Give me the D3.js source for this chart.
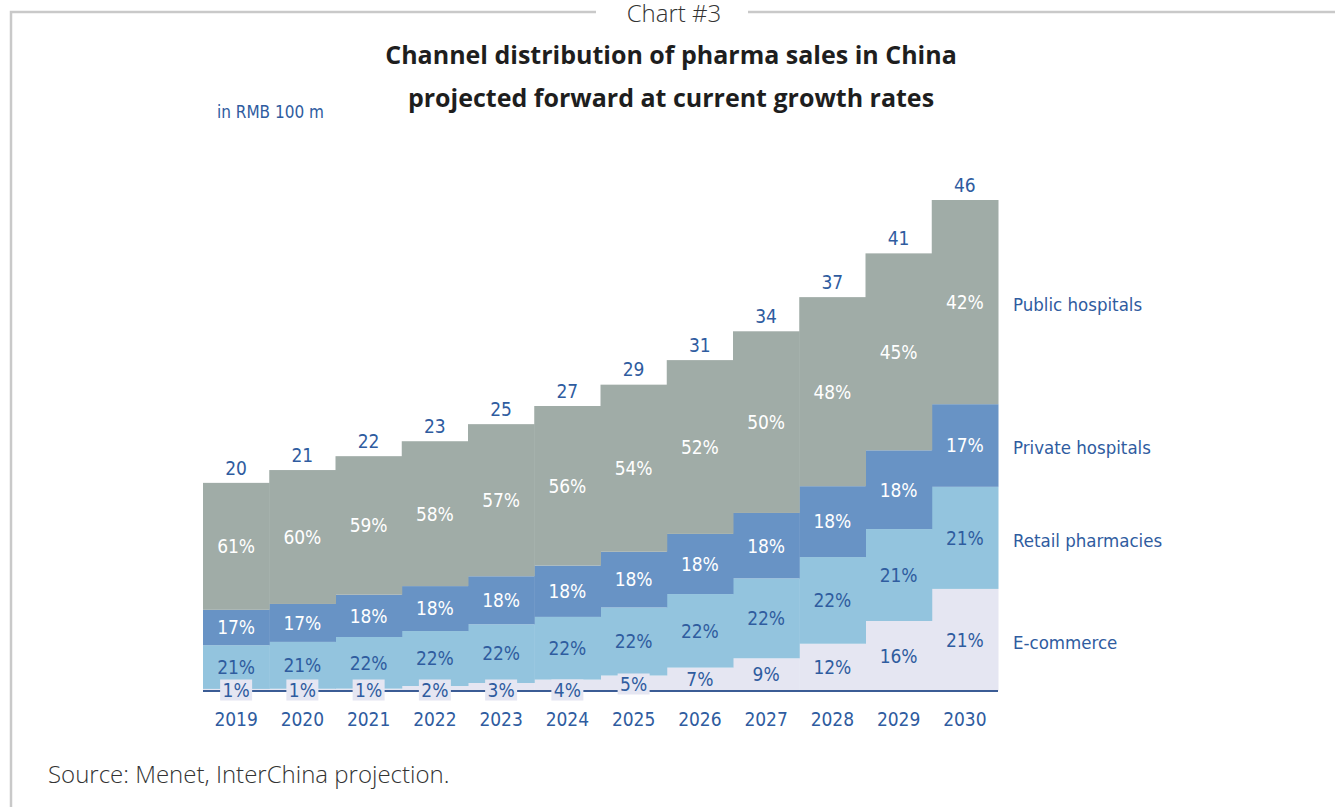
<!DOCTYPE html>
<html>
<head>
<meta charset="utf-8">
<script src="https://cdn.jsdelivr.net/npm/d3@7"></script>
<style>
  body { margin: 0; background: #fff; }
  svg { display: block; }
</style>
</head>
<body>
<svg class="chart"></svg>
<script>
var years = ['2019','2020','2021','2022','2023','2024','2025','2026','2027','2028','2029','2030'];
// totals in RMB 100 m (labels show them rounded)
var totals = [19.5, 20.7, 22.0, 23.4, 25.0, 26.7, 28.7, 31.0, 33.7, 36.9, 41.0, 46.0];
// channel shares in %
var publicShare  = [61, 60, 59, 58, 57, 56, 54, 52, 50, 48, 45, 42];
var privateShare = [17, 17, 18, 18, 18, 18, 18, 18, 18, 18, 18, 17];
var retailShare  = [21, 21, 22, 22, 22, 22, 22, 22, 22, 22, 21, 21];
var ecomShare    = [1, 1, 1, 2, 3, 4, 5, 7, 9, 12, 16, 21];
var channels = ['E-commerce', 'Retail pharmacies', 'Private hospitals', 'Public hospitals'];

var settings = {
  width: 1335,
  height: 807,
  font: '"DejaVu Sans Condensed", "Liberation Sans", sans-serif',
  blue: '#2f5c9f',
  colors: ['#e5e6f2', '#93c4de', '#6893c5', '#a0aca7']
};

var shares = [ecomShare, retailShare, privateShare, publicShare];

var svg = d3.select('.chart')
  .attr('width', settings.width)
  .attr('height', settings.height);

// frame
svg.append('path')
  .attr('d', 'M11,807 V12 H596 M748,12 H1335')
  .attr('fill', 'none')
  .attr('stroke', '#c9c9c9')
  .attr('stroke-width', 2.5);

svg.append('text')
  .attr('x', 674).attr('y', 22)
  .attr('text-anchor', 'middle')
  .attr('font-family', '"Open Sans", sans-serif')
  .attr('font-weight', 300)
  .attr('font-size', 24)
  .attr('fill', '#333')
  .text('Chart #3');

var titleLines = ['Channel distribution of pharma sales in China', 'projected forward at current growth rates'];
svg.selectAll('.title')
  .data(titleLines)
  .enter()
  .append('text')
  .attr('class', 'title')
  .attr('x', 671)
  .attr('y', function(d, i) { return 64 + i * 43; })
  .attr('text-anchor', 'middle')
  .attr('font-family', '"Open Sans", sans-serif')
  .attr('font-weight', 700)
  .attr('font-size', 25)
  .attr('fill', '#1e1e1e')
  .text(function(d) { return d; });

svg.append('text')
  .attr('x', 217).attr('y', 118)
  .attr('font-family', settings.font)
  .attr('font-size', 17)
  .attr('fill', settings.blue)
  .text('in RMB 100 m');

// data table for stacking
var table = years.map(function(y, i) {
  var sum = 0;
  shares.forEach(function(s) { sum += s[i]; });
  var row = { year: y, total: totals[i] };
  channels.forEach(function(c, k) {
    row[c] = totals[i] * shares[k][i] / sum;
  });
  return row;
});

var x = d3.scaleBand().domain(years).range([203, 998]).padding(0);
var y = d3.scaleLinear().domain([0, 46]).range([691, 200]);

var series = d3.stack().keys(channels)(table);

var layer = svg.selectAll('.layer')
  .data(series)
  .enter()
  .append('g')
  .attr('class', 'layer')
  .attr('fill', function(d, k) { return settings.colors[k]; });

layer.selectAll('rect')
  .data(function(d) { return d; })
  .enter()
  .append('rect')
  .attr('x', function(d) { return x(d.data.year); })
  .attr('width', x.bandwidth() + 0.5)
  .attr('y', function(d) { return y(d[1]); })
  .attr('height', function(d) { return y(d[0]) - y(d[1]); });

// baseline
svg.append('line')
  .attr('x1', 203).attr('x2', 998)
  .attr('y1', 691).attr('y2', 691)
  .attr('stroke', '#3b5c95')
  .attr('stroke-width', 2);

// percent labels
series.forEach(function(s, k) {
  var g = svg.append('g');
  s.forEach(function(d, i) {
    var v = shares[k][i];
    var cx = x(d.data.year) + x.bandwidth() / 2;
    var cy = (y(d[0]) + y(d[1])) / 2;
    var small = k === 0 && v <= 5;
    if (small) {
      cy = v < 5 ? 690 : 684;
      g.append('rect')
        .attr('x', cx - 16).attr('y', cy - 10.5)
        .attr('width', 32).attr('height', 21)
        .attr('fill', settings.colors[0]);
    }
    g.append('text')
      .attr('x', cx)
      .attr('y', cy)
      .attr('dy', '0.36em')
      .attr('text-anchor', 'middle')
      .attr('font-family', settings.font)
      .attr('font-size', 19)
      .attr('fill', k >= 2 ? '#ffffff' : settings.blue)
      .text(v + '%');
  });
});

// totals above bars
svg.selectAll('.total')
  .data(table)
  .enter()
  .append('text')
  .attr('class', 'total')
  .attr('x', function(d) { return x(d.year) + x.bandwidth() / 2; })
  .attr('y', function(d) { return y(d.total) - 15; })
  .attr('dy', '0.36em')
  .attr('text-anchor', 'middle')
  .attr('font-family', settings.font)
  .attr('font-size', 19)
  .attr('fill', settings.blue)
  .text(function(d) { return d3.format('.0f')(d.total); });

// x axis labels
var xAxis = d3.axisBottom(x).tickSize(0).tickPadding(0);
var axisG = svg.append('g')
  .attr('transform', 'translate(0,712)')
  .call(xAxis);
axisG.select('.domain').remove();
axisG.selectAll('text')
  .attr('font-family', settings.font)
  .attr('font-size', 19)
  .attr('fill', settings.blue);

// legend at the 2030 segments
var last = table.length - 1;
svg.selectAll('.legend')
  .data(series)
  .enter()
  .append('text')
  .attr('class', 'legend')
  .attr('x', 1013)
  .attr('y', function(s) { return (y(s[last][0]) + y(s[last][1])) / 2 + 2; })
  .attr('dy', '0.36em')
  .attr('font-family', settings.font)
  .attr('font-size', 18.5)
  .attr('fill', settings.blue)
  .text(function(s) { return s.key; });

svg.append('text')
  .attr('x', 48).attr('y', 783)
  .attr('font-family', '"Open Sans", sans-serif')
  .attr('font-weight', 300)
  .attr('font-size', 24)
  .attr('fill', '#333')
  .text('Source: Menet, InterChina projection.');
</script>
</body>
</html>
